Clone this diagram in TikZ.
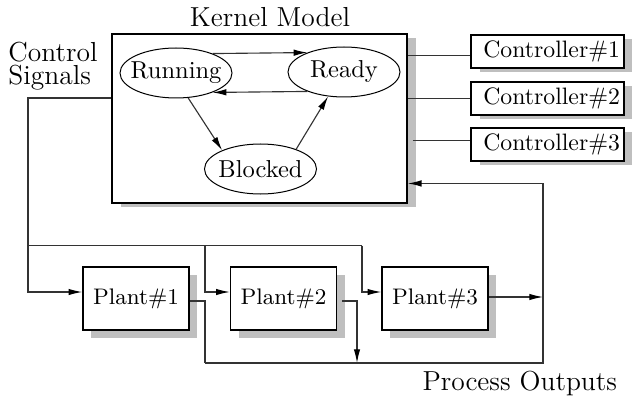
\documentclass[tikz,border=0pt]{standalone}
\usepackage{tikz}
\usetikzlibrary{calc,shapes.geometric,shadows,arrows.meta}
\tikzset{
	wire/.style={line width=0.45pt, color=black!80},
	arr/.style={-{Latex[length=5.5pt,width=2.6pt,color=black]}},
	state/.style={ellipse, draw, line width=0.4pt, minimum width=44.8pt, minimum height=20pt, inner sep=0pt, font=\fontsize{9.8}{11}\selectfont},
	block/.style={draw, fill=white, line width=0.6pt, inner sep=0pt},
	plant/.style={block, minimum width=42.4pt, minimum height=25.2pt, font=\fontsize{9}{11}\selectfont, drop shadow={shadow xshift=3.2pt, shadow yshift=-3.2pt, fill=black!25, opacity=1}},
	ctrl/.style={block, text width=58pt, inner xsep=1.6pt, align=right, minimum height=13.2pt, font=\fontsize{9.5}{11}\selectfont, drop shadow={shadow xshift=3.4pt, shadow yshift=-1.6pt, fill=black!25, opacity=1}},
	bigtext/.style={inner sep=0pt, font=\fontsize{11}{9.2}\selectfont},
}
\begin{document}
\begin{tikzpicture}[x=0.4pt, y=-0.4pt]
		%%%%% START %%%%%
		\useasboundingbox (0, 0) rectangle (632, 406);
		
		% kernel with its three states
		\node[block, minimum width=118pt, minimum height=67.6pt, drop shadow={shadow xshift=3.4pt, shadow yshift=-1.6pt, fill=black!25, opacity=1}] (kernel) at (259.5, 118.5) {};
		\node[bigtext, anchor=base] (ktitle) at (270, 27) {Kernel Model};
		\node[state] (run) at (176, 73) {\makebox[0pt]{Running}};
		\node[state] (rdy) at (344, 72) {\makebox[0pt]{Ready}};
		\node[state] (blk) at (260.5, 169) {\makebox[0pt]{Blocked}};
		\draw[wire, arr] (run.28) -- (rdy.152);
		\draw[wire, arr] (rdy.208) -- (run.-28);
		\draw[wire, arr] (run.-64) -- (blk.154);
		\draw[wire, arr] (blk.29) -- (rdy.237);
		
		% controllers
		\node[ctrl] (c1) at (547.5, 51.5) {Controller\#1};
		\node[ctrl] (c2) at (547.5, 98.3) {Controller\#2};
		\node[ctrl] (c3) at (547.5, 144.7) {Controller\#3};
		\coordinate (t1) at ($(c1.west)+(0, 4.2)$);
		\coordinate (t3) at ($(c3.west)+(0, -4)$);
		\draw[wire] (kernel.east |- t1) -- (t1);
		\draw[wire] (kernel.east |- c2.west) -- (c2.west);
		\draw[wire] ($(kernel.east |- t3)+(5, 0)$) -- (t3);
		
		% plants
		\node[plant] (p1) at (136, 298.5) {Plant\#1};
		\node[plant] (p2) at (283.5, 298.5) {Plant\#2};
		\node[plant] (p3) at (435, 298.5) {Plant\#3};
		
		\node[bigtext, anchor=north west, align=left] (csig) at (8, 41.5) {Control\\Signals};
		\node[bigtext, anchor=base west] (pout) at (422, 390) {Process Outputs};
		
		% control signals bus
		\coordinate (cs) at ($(kernel.west)+(0, -20.5)$);
		\coordinate (b0) at (28, 245.7);
		\coordinate (b2) at (205, 245.7);
		\coordinate (b3) at (362, 245.7);
		\coordinate (p1in) at ($(p1.west)+(0, -6.5)$);
		\coordinate (p2in) at ($(p2.west)+(0, -6.5)$);
		\coordinate (p3in) at ($(p3.west)+(0, -6.5)$);
		\draw[wire, arr] (cs) -| (b0) |- (p1in);
		\draw[wire] (b0) -- (b3);
		\draw[wire, arr] (b2) |- (p2in);
		\draw[wire, arr] (b3) |- (p3in);
		
		% process outputs back to the kernel
		\coordinate (p1out) at ($(p1.east)+(0, 2.5)$);
		\coordinate (p2out) at ($(p2.east)+(5, 2.5)$);
		\coordinate (p3out) at ($(p3.east)+(0, -1.5)$);
		\coordinate (bl) at (205, 363);
		\coordinate (o2) at (357, 363);
		\coordinate (fb) at (543, 363);
		\coordinate (kin) at ($(kernel.south east)+(0, -20.3)$);
		\draw[wire] (p1out) -| (bl);
		\draw[wire, arr] (p2out) -| (o2);
		\draw[wire, arr] (p3out) -- (p3out -| fb);
		\draw[wire, arr] (bl) -- (fb) |- (kin);
		
		%%%%% END %%%%%
\end{tikzpicture}
\end{document}
